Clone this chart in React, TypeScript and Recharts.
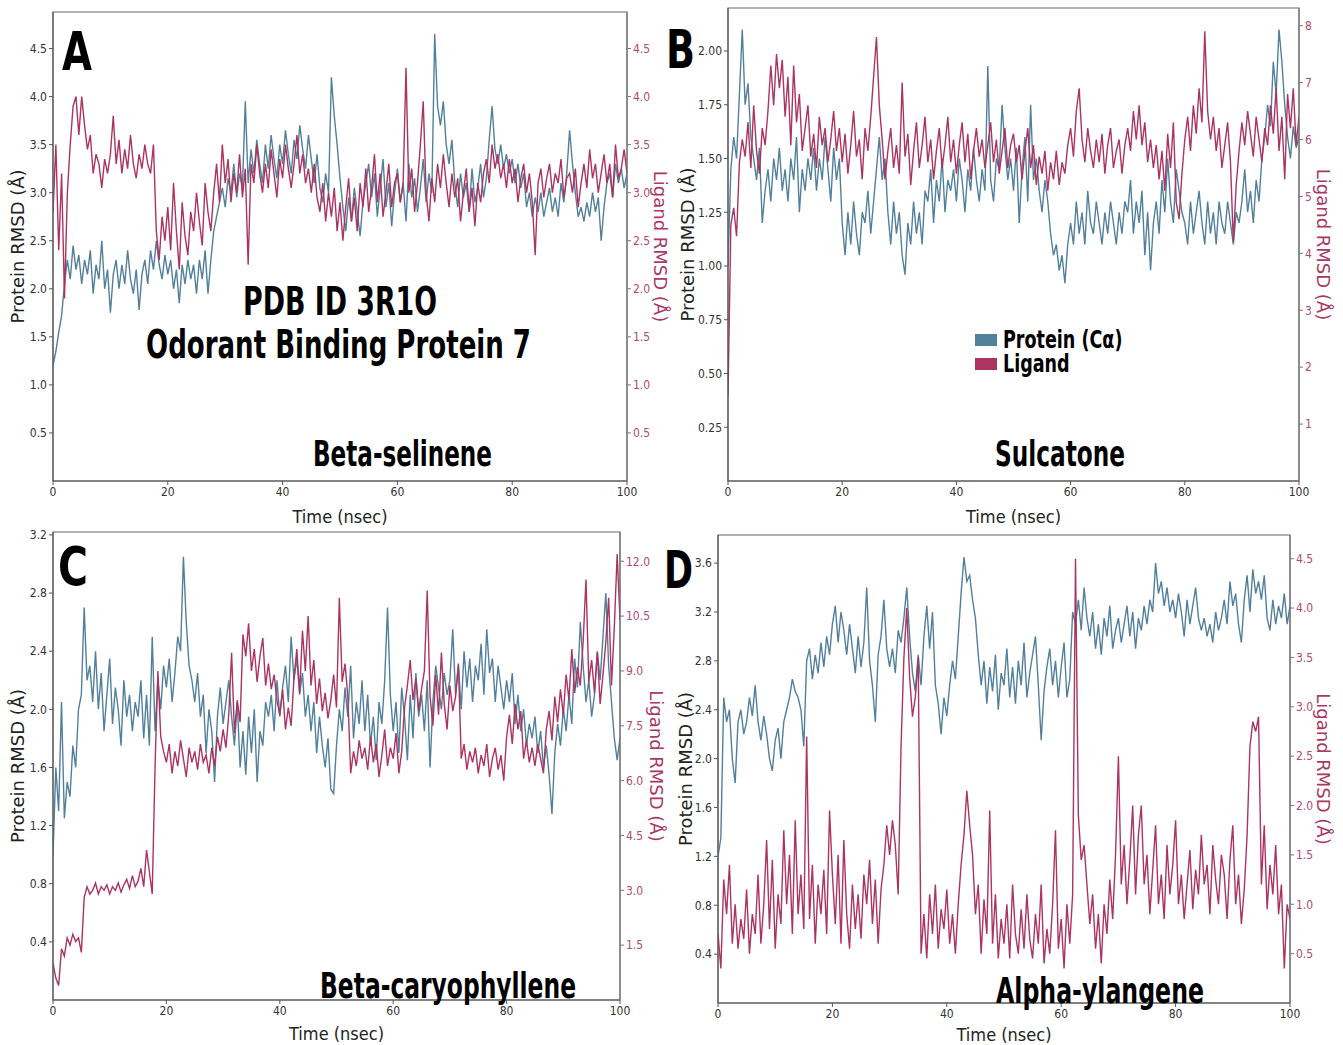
import React from 'react';
import { LineChart, Line, XAxis, YAxis, ReferenceArea, Legend } from 'recharts';

// Sampling step of the trajectories (ns)
const TIME_STEP = 0.5;
const X_TICKS = [0, 20, 40, 60, 80, 100];

// ---------- Panel A : Beta-selinene ----------
const A_PROTEIN = [
  1.2, 1.35, 1.55, 1.72, 2.05, 2.3, 2.1, 2.45, 2.2, 2.35,
  2.05, 2.3, 2.15, 2.4, 1.95, 2.25, 2.1, 2.5, 2.0, 2.2,
  1.75, 2.15, 2.3, 2.0, 2.25, 2.05, 2.4, 2.1, 1.95, 2.2,
  1.78, 2.15, 2.3, 2.05, 2.4, 2.2, 2.5, 2.25, 2.1, 2.35,
  2.15, 2.3, 2.0, 2.2, 1.85, 2.25, 2.05, 2.3, 2.1, 2.25,
  1.95, 2.3, 2.1, 2.4, 1.95, 2.3, 2.6, 2.75, 2.9, 3.05,
  2.85, 3.15, 3.0, 3.3, 2.95, 3.2, 3.05, 3.95, 3.1, 3.45,
  3.2, 3.55, 3.3, 3.1, 3.5, 3.25, 3.6, 3.35, 3.15, 3.5,
  3.3, 3.65, 3.4, 3.2, 3.55, 3.35, 3.7, 3.45, 3.25, 3.6,
  3.35, 3.1, 3.4, 3.05, 2.9, 3.2, 3.0, 4.2, 3.8, 3.5,
  3.15, 2.85, 2.6, 2.95, 2.7, 3.05, 2.8, 2.55, 2.9, 3.1,
  3.3, 2.95, 3.2, 2.75, 3.05, 3.35, 2.85, 3.1, 2.65, 3.0,
  3.25, 2.9, 3.1, 2.7, 3.3, 2.95, 3.15, 2.8, 3.05, 3.35,
  2.9, 3.2, 3.0, 4.65, 3.9, 3.7, 3.95, 3.5, 3.3, 3.55,
  3.1, 2.85, 3.2, 2.95, 3.1, 2.8, 3.25, 2.9, 3.05, 3.3,
  2.95, 3.15, 3.55, 3.9, 3.45, 3.3, 3.5, 3.25, 3.4, 3.2,
  3.35, 3.1, 3.3, 3.05, 3.2, 2.85, 3.0, 2.75, 2.95, 2.8,
  3.0, 2.75, 2.9, 3.05, 2.8, 2.95, 2.75, 3.1, 2.9, 3.2,
  3.65, 3.3, 3.0, 2.75, 2.85, 2.7, 2.9, 2.75, 3.0, 2.8,
  2.95, 2.5, 2.85, 3.1, 3.2, 2.95, 3.3, 3.1, 3.25, 3.05,
  3.2,
];
const A_LIGAND = [
  2.8, 3.5, 2.4, 3.2, 1.9, 3.0, 3.5, 3.9, 4.0, 3.6,
  4.0, 3.7, 3.45, 3.6, 3.2, 3.4, 3.3, 3.05, 3.35, 3.2,
  3.4, 3.8, 3.3, 3.55, 3.2, 3.45, 3.25, 3.6, 3.3, 3.15,
  3.4, 3.25, 3.5, 3.3, 3.2, 3.5, 2.6, 2.3, 2.75, 2.5,
  2.85, 2.4, 3.1, 2.6, 2.2, 2.9, 2.55, 2.35, 2.8, 2.6,
  3.0, 2.7, 2.45, 3.1, 2.8, 2.6, 3.0, 3.3, 2.9, 3.5,
  3.1, 3.35, 2.9, 3.2, 3.0, 3.4, 2.95, 3.25, 2.25, 3.3,
  3.1, 3.5, 3.2, 3.0, 3.3, 3.05, 3.45, 3.2, 2.95, 3.35,
  3.15, 3.5, 3.25, 3.05, 3.3, 3.6, 3.2, 3.4, 3.1, 3.25,
  3.0, 3.3, 2.95, 2.8, 3.1, 2.7, 3.0, 2.75, 3.05, 2.6,
  2.9, 2.5, 2.85, 3.15, 2.7, 2.95, 2.6, 3.1, 2.85, 3.25,
  2.8, 3.05, 3.4, 2.9, 3.2, 2.75, 3.0, 3.3, 2.85, 3.1,
  3.2, 2.9, 3.1, 4.3, 3.0, 3.25, 2.8, 3.1, 3.5, 3.95,
  3.0, 2.7, 3.15, 2.9, 3.3, 3.05, 3.4, 3.1, 2.85, 3.2,
  2.95, 3.15, 2.7, 3.0, 3.25, 2.8, 3.05, 2.65, 3.1, 2.9,
  3.2, 3.35, 3.1, 3.5, 3.25, 3.4, 3.15, 3.3, 3.05, 3.35,
  3.1, 3.25, 2.9, 3.15, 3.3, 3.0, 3.2, 2.9, 2.35, 3.1,
  3.25, 2.95, 3.15, 3.3, 3.0, 3.2, 3.1, 3.35, 2.95, 3.15,
  3.2, 3.0, 3.25, 2.85, 3.1, 3.3, 3.05, 3.45, 3.15, 3.3,
  3.0, 3.2, 3.4, 3.1, 3.3, 2.95, 3.5, 3.15, 3.25, 3.45,
  3.2,
];

// ---------- Panel B : Sulcatone ----------
const B_PROTEIN = [
  1.0, 1.45, 1.6, 1.5, 1.8, 2.1, 1.75, 1.85, 1.6, 1.5,
  1.4, 1.55, 1.2, 1.35, 1.45, 1.3, 1.5, 1.4, 1.55, 1.35,
  1.45, 1.3, 1.5, 1.4, 1.6, 1.25, 1.45, 1.35, 1.5, 1.4,
  1.55, 1.35, 1.5, 1.4, 1.6, 1.45, 1.3, 1.55, 1.4, 1.5,
  1.2, 1.05, 1.25, 1.1, 1.3, 1.15, 1.05, 1.25, 1.2, 1.35,
  1.15, 1.3, 1.45, 1.6, 1.4, 1.5, 1.25, 1.1, 1.3, 1.15,
  1.25, 1.05, 0.96, 1.2, 1.1, 1.3, 1.15, 1.25, 1.1, 1.35,
  1.3, 1.45, 1.2, 1.4, 1.3, 1.5, 1.25, 1.4, 1.35, 1.45,
  1.3, 1.5, 1.4, 1.25, 1.45, 1.35, 1.55, 1.4, 1.3, 1.45,
  1.35, 1.93, 1.4, 1.3, 1.5, 1.45, 1.75, 1.55, 1.4, 1.5,
  1.35, 1.55, 1.2, 1.45, 1.6, 1.3, 1.75, 1.4, 1.5, 1.35,
  1.25, 1.4, 1.3, 1.15, 1.05, 1.1, 0.98, 1.05, 0.92, 1.1,
  1.2, 1.1, 1.3, 1.15, 1.25, 1.1, 1.35, 1.2, 1.15, 1.3,
  1.2, 1.1, 1.25, 1.15, 1.3, 1.2, 1.1, 1.25, 1.15, 1.3,
  1.25, 1.4, 1.15, 1.3, 1.2, 1.35, 1.05, 1.25, 0.98, 1.2,
  1.3, 1.15, 1.4, 1.25, 1.5, 1.3, 1.2, 1.45, 1.35, 1.25,
  1.2, 1.1, 1.3, 1.15, 1.25, 1.35, 1.2, 1.1, 1.3, 1.15,
  1.25, 1.1, 1.3, 1.2, 1.15, 1.3, 1.2, 1.1, 1.25, 1.2,
  1.3, 1.45, 1.25, 1.35, 1.2, 1.4, 1.3, 1.5, 1.6, 1.75,
  1.65, 1.95, 1.8, 2.1, 1.95, 1.75, 1.6, 1.5, 1.65, 1.55,
  1.6,
];
const B_LIGAND = [
  1.5, 4.5, 4.8, 4.3, 5.6, 6.0, 5.7, 6.3, 5.5, 6.6,
  5.8, 5.4, 6.2, 5.9, 6.5, 7.3, 6.6, 7.5, 6.9, 7.4,
  6.4, 7.1, 5.9, 7.3, 6.3, 6.8, 5.8, 6.2, 6.6, 5.7,
  6.1, 5.5, 6.4, 5.9, 6.2, 5.6, 6.0, 6.5, 5.8, 6.2,
  5.6, 6.1, 5.4, 5.9, 6.5, 5.7, 6.0, 5.3, 6.2, 5.8,
  6.4, 7.1, 7.8, 6.6, 6.0, 5.3, 5.8, 6.2, 5.5, 5.9,
  5.4, 7.0, 5.7, 6.1, 5.2, 5.8, 6.3, 5.5, 5.9, 6.4,
  5.6, 6.0, 5.3, 5.8, 6.2, 5.5, 5.9, 6.4, 5.6, 6.0,
  5.4, 5.9, 6.3, 5.6, 6.1, 5.3, 5.8, 6.2, 5.7, 6.0,
  5.5, 5.9, 6.3, 5.6, 6.0, 5.4, 5.8, 6.2, 5.5, 5.9,
  6.1, 5.6, 5.9, 5.3, 5.8, 6.2, 5.5, 5.9, 5.2, 5.7,
  5.4, 5.8, 5.1, 5.6, 5.3, 5.8, 5.2, 5.6, 5.4, 5.9,
  6.2, 5.7, 6.5, 6.9, 6.0, 5.6, 6.2, 5.8, 5.5, 6.0,
  5.6, 6.1, 5.4, 5.9, 6.2, 5.5, 5.8, 6.0, 5.4, 5.9,
  6.2, 5.8, 6.5, 6.0, 6.6, 5.9, 6.3, 5.6, 6.0, 5.5,
  5.9, 5.3, 5.8, 5.1, 6.1, 5.5, 6.3, 4.9, 4.6, 5.4,
  6.0, 6.4, 5.8, 6.6, 6.1, 6.9, 6.3, 7.9, 6.5, 6.0,
  6.4, 5.8, 6.2, 5.5, 5.9, 6.3, 5.6, 4.2, 5.2, 5.8,
  6.3, 5.9, 6.5, 6.1, 5.7, 6.4, 6.0, 5.6, 6.2, 5.9,
  6.6, 6.1, 6.9, 5.8, 6.4, 5.3, 6.8, 6.2, 6.9, 5.9,
  6.4,
];

// ---------- Panel C : Beta-caryophyllene ----------
const C_PROTEIN = [
  1.0, 1.6, 1.3, 2.05, 1.25, 1.5, 1.4, 1.75, 1.6, 2.0,
  2.1, 2.7, 2.2, 2.3, 2.05, 2.4, 2.0, 2.25, 1.85, 2.1,
  2.35, 1.9, 2.15, 2.0, 1.75, 2.2, 1.95, 2.1, 1.85, 2.05,
  1.95, 2.2, 1.8, 2.1, 1.75, 2.5, 1.85, 2.2, 2.0, 2.3,
  2.15, 2.35, 2.05, 2.25, 2.5, 2.4, 3.05, 2.6, 2.3, 2.2,
  2.05, 2.25, 1.95, 2.1, 1.7, 2.0, 1.85, 1.5, 1.95, 2.15,
  1.9, 2.05, 2.2, 1.95, 1.75, 2.05, 1.6, 1.85, 1.55, 1.95,
  1.7, 2.0, 1.5, 1.85, 1.75, 2.05, 1.95, 2.1, 1.85, 2.2,
  1.95, 2.15, 2.3, 2.05, 2.5, 2.2, 2.35, 2.1, 2.25, 1.95,
  2.1, 1.85, 2.05, 1.7, 1.95, 1.75, 1.6, 1.8, 1.45, 1.42,
  1.75, 2.0, 1.85, 2.15, 1.95, 2.3, 1.8, 2.05, 1.9, 2.2,
  1.85, 2.1, 1.75, 1.95, 1.65, 2.05, 1.9, 2.2, 2.7, 2.1,
  1.85, 2.05, 1.7, 2.15, 1.95, 1.65, 2.1, 1.8, 2.25, 1.95,
  2.1, 1.85, 2.2, 1.6, 2.05, 2.3, 2.15, 2.0, 2.25, 2.1,
  2.2, 2.55, 2.1, 2.3, 2.0, 2.4, 2.15, 2.35, 2.05, 2.3,
  2.2, 2.45, 2.1, 2.55, 2.25, 2.35, 2.05, 2.3, 2.15, 2.0,
  2.2, 2.05, 2.25, 1.9, 2.1, 1.85, 2.0, 1.75, 1.9, 1.8,
  1.95, 1.7, 1.85, 1.6, 1.75, 1.55, 1.28, 1.7, 1.9, 1.75,
  2.0, 1.85, 2.1, 1.9, 2.35, 2.15, 2.6, 2.3, 2.05, 2.2,
  1.95, 2.1, 2.4, 2.2, 2.5, 2.8, 2.3, 2.05, 1.8, 1.65,
  1.8,
];
const C_LIGAND = [
  1.0, 0.6, 0.4, 1.4, 1.2, 1.7, 1.5, 1.8, 1.6, 1.7,
  1.3, 2.8, 3.1, 2.9, 3.0, 3.2, 2.9, 3.1, 3.0, 3.15,
  2.9, 3.1, 3.0, 3.2, 2.95, 3.15, 3.3, 3.05, 3.4, 3.1,
  3.25, 3.6, 3.1, 4.1, 3.5, 2.9, 6.4, 9.0, 7.2, 6.8,
  6.5, 7.0, 6.2, 6.8, 6.4, 7.1, 6.6, 6.1, 6.9, 6.5,
  6.8, 6.3, 7.0, 6.5, 6.7, 6.2, 6.9, 6.4, 7.2, 6.8,
  7.4, 6.9, 7.8, 9.5, 7.3, 8.2, 7.6, 10.0, 9.4, 10.3,
  9.0, 9.6, 8.7, 9.4, 9.9, 8.6, 9.2, 8.5, 8.9, 8.2,
  7.8, 8.5, 7.4, 8.0, 7.5, 8.8, 9.6, 8.4, 10.1, 9.0,
  10.5, 8.6, 9.3, 8.1, 8.8, 7.9, 8.4, 7.7, 8.2, 8.9,
  8.0, 11.0, 8.7, 9.2, 8.3, 6.2, 6.8, 6.4, 7.1, 6.6,
  6.9, 6.3, 7.2, 6.5, 7.0, 6.1, 6.7, 7.4, 6.4, 6.9,
  6.6, 7.3, 6.2, 6.8, 8.0, 8.6, 9.3, 8.2, 8.8, 7.9,
  8.5, 9.0, 11.2, 8.3, 7.5, 8.9, 7.8, 9.5, 8.1, 7.4,
  8.6, 7.9, 8.3, 9.2, 6.6, 7.0, 6.3, 6.8, 6.5, 6.9,
  6.2, 6.7, 6.4, 7.0, 6.1, 6.6, 6.9, 6.3, 6.7, 6.0,
  7.2, 7.8, 7.0, 8.1, 7.4, 7.9, 6.6, 7.1, 6.5, 6.9,
  6.4, 7.0, 6.6, 6.2, 7.4, 7.9, 7.1, 8.3, 7.6, 8.5,
  7.8, 8.9, 8.2, 9.6, 8.4, 9.1, 8.6, 9.8, 11.5, 8.7,
  9.3, 8.4, 9.5, 8.1, 8.9, 9.8, 11.0, 8.6, 10.2, 12.2,
  10.4,
];

// ---------- Panel D : Alpha-ylangene ----------
const D_PROTEIN = [
  1.2, 1.35, 2.5, 2.3, 2.4, 2.0, 1.8, 2.3, 2.4, 2.2,
  2.3, 2.5, 2.35, 2.6, 2.3, 2.15, 2.35, 2.2, 2.0, 1.9,
  2.15, 2.25, 2.0, 2.3, 2.4, 2.5, 2.65, 2.55, 2.5, 2.4,
  2.1, 2.8, 2.9, 2.65, 2.85, 2.7, 2.95, 2.75, 3.0, 2.85,
  3.1, 3.25, 2.95, 3.2, 3.05, 2.85, 3.1, 2.9, 2.7, 3.0,
  2.75, 2.95, 3.4, 2.8, 2.6, 2.3, 2.85, 3.0, 3.3, 2.9,
  2.75, 2.9, 2.7, 3.05, 2.95, 3.15, 3.4, 3.0, 2.7, 2.55,
  2.85, 2.6, 3.0, 3.25, 2.9, 3.2, 2.6, 2.45, 2.2, 2.5,
  2.35, 2.6, 2.8, 2.65, 3.0, 3.35, 3.65, 3.45, 3.5, 3.3,
  3.15, 2.85, 2.6, 2.8, 2.45, 2.75, 2.55, 2.85, 2.4, 2.7,
  2.6, 2.9, 2.5, 2.75, 2.45, 2.8, 2.6, 2.95, 2.5, 2.7,
  2.85, 3.0, 2.6, 2.15, 2.55, 2.75, 2.9, 2.6, 2.8, 2.5,
  2.75, 2.95, 2.5, 2.65, 3.2, 3.1, 3.3, 3.05, 3.4, 3.15,
  3.0, 3.2, 2.9, 3.1, 2.85, 3.15, 3.0, 3.25, 2.9, 3.05,
  3.15, 2.95, 3.1, 3.25, 3.0, 3.2, 2.9, 3.15, 3.05, 3.25,
  3.1, 3.3, 3.2, 3.6, 3.35, 3.45, 3.25, 3.4, 3.2, 3.3,
  3.15, 3.35, 3.2, 3.0, 3.3, 3.1, 3.25, 3.4, 3.15, 3.05,
  3.15, 3.0, 3.1, 2.95, 3.2, 3.05, 3.15, 3.3, 3.1, 3.45,
  3.25, 3.35, 3.1, 2.95, 3.3, 3.5, 3.2, 3.55, 3.35, 3.45,
  3.3, 3.5, 3.15, 3.05, 3.3, 3.1, 3.25, 3.15, 3.35, 3.1,
  3.25,
];
const D_LIGAND = [
  0.7, 0.35, 1.25, 0.9, 1.4, 0.6, 1.0, 0.55, 0.85, 0.65,
  1.15, 0.5, 0.9, 0.7, 1.3, 0.6, 1.0, 1.65, 0.75, 1.45,
  0.55, 1.1, 0.8, 1.75, 1.0, 1.5, 0.7, 1.85, 0.9, 1.3,
  0.75, 2.7, 0.85, 1.4, 0.6, 1.2, 0.9, 1.35, 0.7, 1.95,
  1.3, 0.8, 1.5, 0.6, 1.65, 0.9, 0.55, 1.2, 0.75, 1.1,
  0.65, 1.3, 1.0, 1.45, 0.8, 1.25, 0.6, 1.15, 1.4, 1.8,
  1.5, 1.85, 1.6, 1.1, 2.6, 3.5, 4.0, 3.3, 2.9, 3.1,
  3.5, 0.5, 0.9, 0.45, 1.1, 0.7, 1.2, 0.55, 0.95, 0.75,
  1.15, 0.6, 0.9, 0.5, 1.0, 1.4, 1.7, 2.15, 1.8, 1.5,
  0.9, 1.2, 0.5, 1.05, 0.7, 1.95, 0.6, 1.1, 0.45, 0.85,
  0.6, 1.0, 0.45, 1.2, 0.7, 0.5, 0.95, 0.55, 1.1, 0.65,
  0.45, 0.9, 0.6, 1.2, 0.4, 0.75, 0.5, 1.0, 1.75, 0.55,
  0.85, 0.35, 1.0, 0.6, 1.1, 4.5, 1.9, 1.45, 1.6, 1.2,
  0.8, 1.1, 0.55, 0.9, 0.4, 1.0, 0.7, 1.25, 0.85, 1.5,
  2.5, 1.2, 1.6, 1.0, 1.45, 2.0, 1.1, 1.7, 2.0, 1.2,
  1.5, 0.9, 1.35, 1.8, 1.0, 1.3, 0.85, 1.6, 1.1, 1.4,
  1.85, 1.0, 1.3, 0.85, 1.2, 1.55, 0.95, 1.35, 1.1, 1.7,
  1.2, 1.4, 0.9, 1.6, 1.25, 1.0, 1.5, 1.3, 0.85, 1.45,
  1.8, 1.0, 1.3, 0.8, 1.15, 1.7, 2.6, 2.85, 2.75, 2.9,
  1.2, 1.8, 0.95, 1.4, 1.1, 1.6, 0.9, 1.2, 0.35, 1.0,
  0.85,
];

// Axis ticks
const A_LEFT_TICKS = [0.5, 1.0, 1.5, 2.0, 2.5, 3.0, 3.5, 4.0, 4.5];
const A_RIGHT_TICKS = [0.5, 1.0, 1.5, 2.0, 2.5, 3.0, 3.5, 4.0, 4.5];
const B_LEFT_TICKS = [0.25, 0.5, 0.75, 1.0, 1.25, 1.5, 1.75, 2.0];
const B_RIGHT_TICKS = [1, 2, 3, 4, 5, 6, 7, 8];
const C_LEFT_TICKS = [0.4, 0.8, 1.2, 1.6, 2.0, 2.4, 2.8, 3.2];
const C_RIGHT_TICKS = [1.5, 3.0, 4.5, 6.0, 7.5, 9.0, 10.5, 12.0];
const D_LEFT_TICKS = [0.4, 0.8, 1.2, 1.6, 2.0, 2.4, 2.8, 3.2, 3.6];
const D_RIGHT_TICKS = [0.5, 1.0, 1.5, 2.0, 2.5, 3.0, 3.5, 4.0, 4.5];

const BLUE = '#52809c';
const PINK = '#ab3461';
const RIGHT_TICK = '#b04a74';
const TICK_FONT = "'DejaVu Sans Condensed', 'DejaVu Sans', sans-serif";
const LABEL_FONT = "'DejaVu Sans', sans-serif";
const NARROW_FONT = "'Liberation Sans Narrow', 'DejaVu Sans Condensed', 'Arial Narrow', sans-serif";
const BOLD_FONT = "'Liberation Sans Narrow', 'DejaVu Sans Condensed', 'Arial Narrow', sans-serif";

type PanelProps = {
  left: number; top: number; width: number; height: number;
  mt: number; lw: number; rw: number; xh: number;
  protein: number[]; ligand: number[];
  lDomain: [number, number]; rDomain: [number, number];
  lTicks: number[]; rTicks: number[]; lDec: number; rDec: number;
  lLabelOff: number; rLabelOff: number; xLabelOff: number;
  legend?: boolean;
};

function LegendBox() {
  const row = (color: string, text: string) => (
    <div style={{ display: 'flex', alignItems: 'center', height: 24, whiteSpace: 'nowrap' }}>
      <span style={{ display: 'inline-block', width: 22, height: 12, background: color, marginRight: 6, flex: 'none' }} />
      <span style={{ display: 'inline-block', fontFamily: BOLD_FONT, fontWeight: 700, fontSize: 25, color: '#000', lineHeight: '24px', transform: 'scaleX(0.78)', transformOrigin: 'left center' }}>{text}</span>
    </div>
  );
  return (
    <div>
      {row(BLUE, 'Protein (Cα)')}
      {row(PINK, 'Ligand')}
    </div>
  );
}

function Panel(p: PanelProps) {
  const n = Math.min(p.protein.length, p.ligand.length);
  const rows = [];
  for (let i = 0; i < n; i++) {
    rows.push({ t: i * TIME_STEP, protein: p.protein[i], ligand: p.ligand[i] });
  }
  return (
    <div style={{ position: 'absolute', left: p.left, top: p.top }}>
      <LineChart width={p.width} height={p.height} data={rows} margin={{ top: p.mt, right: 0, bottom: 0, left: 0 }}>
        <XAxis
          dataKey="t" type="number" domain={[0, 100]} ticks={X_TICKS} height={p.xh}
          allowDataOverflow tickSize={4} tickMargin={2}
          axisLine={{ stroke: '#555' }} tickLine={{ stroke: '#555' }}
          tick={{ fontSize: 12, fill: '#333', fontFamily: TICK_FONT }}
          label={{ value: 'Time (nsec)', position: 'insideBottom', offset: p.xLabelOff, fontSize: 18, fill: '#222', fontFamily: NARROW_FONT }}
        />
        <YAxis
          yAxisId="left" orientation="left" width={p.lw} domain={p.lDomain} ticks={p.lTicks}
          allowDataOverflow type="number" tickSize={4} tickMargin={2} interval={0}
          tickFormatter={(v: number) => v.toFixed(p.lDec)}
          axisLine={{ stroke: '#555' }} tickLine={{ stroke: '#555' }}
          tick={{ fontSize: 12, fill: '#333', fontFamily: TICK_FONT }}
          label={{ value: 'Protein RMSD (Å)', angle: -90, position: 'insideLeft', offset: p.lLabelOff, fontSize: 18, fill: '#222', fontFamily: LABEL_FONT, style: { textAnchor: 'middle' } }}
        />
        <YAxis
          yAxisId="right" orientation="right" width={p.rw} domain={p.rDomain} ticks={p.rTicks}
          allowDataOverflow type="number" tickSize={4} tickMargin={2} interval={0}
          tickFormatter={(v: number) => v.toFixed(p.rDec)}
          axisLine={{ stroke: '#777' }} tickLine={{ stroke: '#777' }}
          tick={{ fontSize: 12, fill: RIGHT_TICK, fontFamily: TICK_FONT }}
          label={{ value: 'Ligand RMSD (Å)', angle: 90, position: 'insideRight', offset: p.rLabelOff, fontSize: 18, fill: '#a83a64', fontFamily: LABEL_FONT, style: { textAnchor: 'middle' } }}
        />
        <ReferenceArea yAxisId="left" x1={0} x2={100} y1={p.lDomain[0]} y2={p.lDomain[1]} fill="none" stroke="#666" strokeWidth={1.2} />
        <Line yAxisId="left" type="linear" dataKey="protein" stroke={BLUE} strokeWidth={1.4} dot={false} isAnimationActive={false} />
        <Line yAxisId="right" type="linear" dataKey="ligand" stroke={PINK} strokeWidth={1.4} dot={false} isAnimationActive={false} />
        {p.legend ? (
          <Legend layout="vertical" verticalAlign="middle" align="center" content={() => <LegendBox />}
            wrapperStyle={{ left: 305, top: 328, width: 200, height: 50 }} />
        ) : null}
      </LineChart>
    </div>
  );
}

function Captions() {
  const big = { fontFamily: BOLD_FONT, fontWeight: 700, fill: '#000' } as const;
  return (
    <svg width={1343} height={1045} style={{ position: 'absolute', left: 0, top: 0, pointerEvents: 'none' }}>
      <text x={62} y={70} fontSize={54} textLength={30} lengthAdjust="spacingAndGlyphs" {...big}>A</text>
      <text x={666} y={68} fontSize={54} textLength={29} lengthAdjust="spacingAndGlyphs" {...big}>B</text>
      <text x={58} y={585} fontSize={54} textLength={30} lengthAdjust="spacingAndGlyphs" {...big}>C</text>
      <text x={664} y={588} fontSize={52} textLength={29} lengthAdjust="spacingAndGlyphs" {...big}>D</text>
      <text x={243} y={315} fontSize={39} textLength={194} lengthAdjust="spacingAndGlyphs" {...big}>PDB ID  3R1O</text>
      <text x={146} y={358} fontSize={39} textLength={385} lengthAdjust="spacingAndGlyphs" {...big}>Odorant Binding Protein 7</text>
      <text x={313} y={466} fontSize={36} textLength={179} lengthAdjust="spacingAndGlyphs" {...big}>Beta-selinene</text>
      <text x={995} y={466} fontSize={36} textLength={130} lengthAdjust="spacingAndGlyphs" {...big}>Sulcatone</text>
      <text x={320} y={998} fontSize={36} textLength={256} lengthAdjust="spacingAndGlyphs" {...big}>Beta-caryophyllene</text>
      <text x={996} y={1003} fontSize={36} textLength={208} lengthAdjust="spacingAndGlyphs" {...big}>Alpha-ylangene</text>
    </svg>
  );
}

export default function App() {
  return (
    <div style={{ position: 'absolute', left: 0, top: 0, width: 1343, height: 1045, background: '#fff', overflow: 'hidden' }}>
      <Panel left={0} top={0} width={700} height={531} mt={12} lw={53} rw={73} xh={50}
        protein={A_PROTEIN} ligand={A_LIGAND} lDomain={[0, 4.88]} rDomain={[0, 4.88]}
        lTicks={A_LEFT_TICKS} rTicks={A_RIGHT_TICKS} lDec={1} rDec={1}
        lLabelOff={18} rLabelOff={40} xLabelOff={8} />
      <Panel left={670} top={0} width={673} height={531} mt={8} lw={58} rw={44} xh={50}
        protein={B_PROTEIN} ligand={B_LIGAND} lDomain={[0, 2.2]} rDomain={[0, 8.31]}
        lTicks={B_LEFT_TICKS} rTicks={B_RIGHT_TICKS} lDec={2} rDec={0}
        lLabelOff={18} rLabelOff={20} xLabelOff={8} legend />
      <Panel left={0} top={520} width={680} height={525} mt={12} lw={53} rw={60} xh={45}
        protein={C_PROTEIN} ligand={C_LIGAND} lDomain={[0, 3.22]} rDomain={[0, 12.8]}
        lTicks={C_LEFT_TICKS} rTicks={C_RIGHT_TICKS} lDec={1} rDec={1}
        lLabelOff={18} rLabelOff={24} xLabelOff={5} />
      <Panel left={672} top={520} width={671} height={525} mt={15} lw={46} rw={53} xh={42}
        protein={D_PROTEIN} ligand={D_LIGAND} lDomain={[0, 3.83]} rDomain={[0, 4.74]}
        lTicks={D_LEFT_TICKS} rTicks={D_RIGHT_TICKS} lDec={1} rDec={1}
        lLabelOff={14} rLabelOff={20} xLabelOff={4} />
      <Captions />
    </div>
  );
}
